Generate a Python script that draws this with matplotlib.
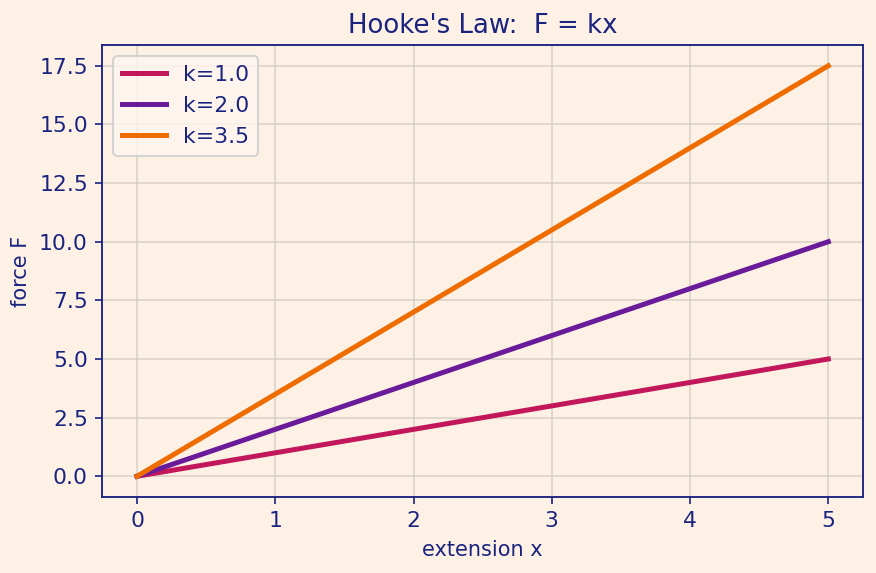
import matplotlib.pyplot as plt
import numpy as np

extension = [0, 1, 2, 3, 4, 5]
k_values = [1.0, 2.0, 3.5]
force_k1 = [0.0, 1.0, 2.0, 3.0, 4.0, 5.0]
force_k2 = [0.0, 2.0, 4.0, 6.0, 8.0, 10.0]
force_k35 = [0.0, 3.5, 7.0, 10.5, 14.0, 17.5]

colors = ['#c2185b', '#6a1b9a', '#ef6c00']
bg = '#fdf1e6'
ink = '#1a237e'

fig = plt.figure(figsize=(5.84, 3.82), dpi=150, facecolor=bg)
ax = fig.add_subplot(111)
ax.set_facecolor(bg)

for k, f, c in zip(k_values, [force_k1, force_k2, force_k35], colors):
    ax.plot(extension, f, color=c, lw=2.4, label=f'k={k}')

ax.set_title("Hooke's Law:  F = kx", color=ink, fontsize=12.5)
ax.set_xlabel('extension x', color=ink, fontsize=10)
ax.set_ylabel('force F', color=ink, fontsize=10)
ax.set_yticks(np.arange(0, 17.6, 2.5))
ax.grid(True, color='#cfc6bd', lw=0.8, alpha=0.7)
ax.tick_params(colors=ink, labelsize=10.5)
for s in ax.spines.values():
    s.set_color(ink)
    s.set_linewidth(0.9)

leg = ax.legend(loc='upper left', fontsize=10.5, labelcolor=ink)
leg.get_frame().set_facecolor('#fdf6f0')

fig.subplots_adjust(left=0.117, right=0.985, top=0.921, bottom=0.133)
fig.savefig('out.png', dpi=150, facecolor=bg)
